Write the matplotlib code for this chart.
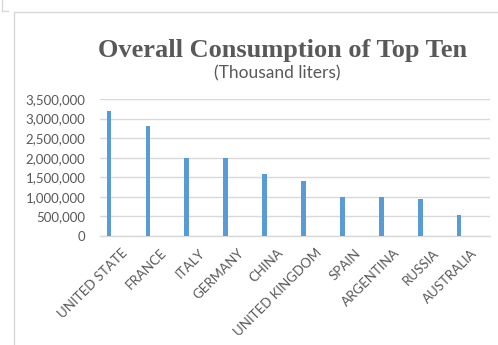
import matplotlib
matplotlib.use("Agg")
import matplotlib.pyplot as plt
import matplotlib.transforms as mtransforms
from matplotlib.lines import Line2D
from matplotlib.ticker import FuncFormatter

countries = ["UNITED STATE", "FRANCE", "ITALY", "GERMANY", "CHINA",
             "UNITED KINGDOM", "SPAIN", "ARGENTINA", "RUSSIA", "AUSTRALIA"]
consumption = [3200000, 2800000, 2000000, 2000000, 1580000,
               1400000, 1000000, 1000000, 950000, 530000]
y_ticks = [0, 500000, 1000000, 1500000, 2000000, 2500000, 3000000, 3500000]

W, H = 498, 345
fig = plt.figure(figsize=(W / 100, H / 100), dpi=100)
fig.patch.set_facecolor("white")

grey_text = "#595959"
grid_col = "#d9d9d9"
bar_col = "#5b9bd5"

# chart-area border (extends past the right and bottom edges)
fig.add_artist(Line2D([13.5 / W, 13.5 / W], [0, 1 - 11.5 / H], transform=fig.transFigure,
                      color=grid_col, lw=1))
fig.add_artist(Line2D([13.5 / W, 1], [1 - 11.5 / H, 1 - 11.5 / H], transform=fig.transFigure,
                      color=grid_col, lw=1))
# corner of a neighbouring frame
fig.add_artist(Line2D([1.5 / W, 1.5 / W, 8 / W], [1, 1 - 10.5 / H, 1 - 10.5 / H],
                      transform=fig.transFigure, color=grid_col, lw=1))

left, right = 100 / W, 490 / W
bottom, top = 1 - 236 / H, 1 - 99 / H
ax = fig.add_axes([left, bottom, right - left, top - bottom])

x = list(range(len(countries)))
ax.bar(x, consumption, width=0.12, color=bar_col, zorder=3)

ax.set_xlim(-0.231, 9.794)
ax.set_ylim(0, 3500000)
ax.set_yticks(y_ticks)
ax.yaxis.set_major_formatter(FuncFormatter(lambda v, p: f"{int(v):,}"))
ax.grid(axis="y", color=grid_col, lw=1, zorder=0)
ax.set_axisbelow(True)
for s in ["top", "right", "left"]:
    ax.spines[s].set_visible(False)
ax.spines["bottom"].set_color(grid_col)
ax.spines["bottom"].set_linewidth(1)
ax.tick_params(axis="both", length=0, colors=grey_text)
ax.tick_params(axis="y", pad=10.5, labelsize=9.5)

ax.set_xticks(x)
ax.set_xticklabels(countries, rotation=45, ha="right", rotation_mode="anchor",
                   fontsize=9.5, color=grey_text, family="Lato")
offset = mtransforms.ScaledTranslation(12 / 100, -6 / 100, fig.dpi_scale_trans)
for lbl in ax.get_xticklabels():
    lbl.set_transform(lbl.get_transform() + offset)
for lbl in ax.get_yticklabels():
    lbl.set_family("Lato")

fig.text(283 / W, 1 - 50 / H, "Overall Consumption of Top Ten", ha="center", va="center",
         family="Liberation Serif", fontweight="bold", fontsize=19, color=grey_text)
fig.text(277.5 / W, 1 - 73 / H, "(Thousand liters)", ha="center", va="center",
         family="Lato", fontsize=12.5, color=grey_text)

fig.savefig("out.png", dpi=100, facecolor="white")
